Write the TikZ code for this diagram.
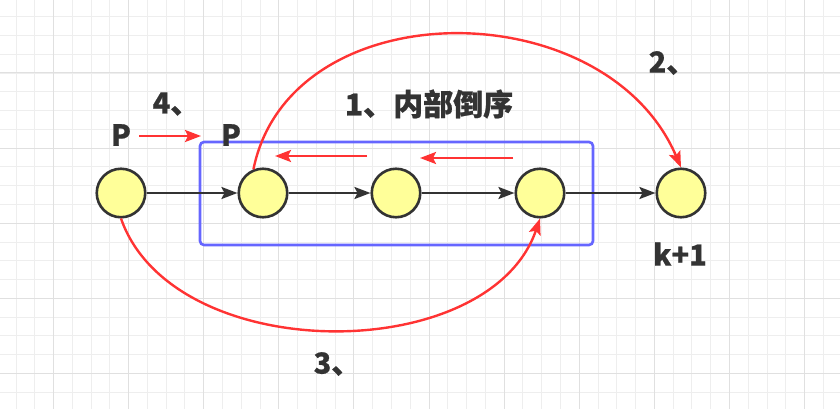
\documentclass[tikz,border=0pt]{standalone}
\usepackage{fontspec}
\newfontfamily\cjk{Noto Sans CJK SC}[BoldFeatures={FakeBold=0.6}]
\usetikzlibrary{arrows.meta}
\definecolor{gridminor}{HTML}{EEEEEE}
\definecolor{gridmajor}{HTML}{E0E0E0}
\definecolor{nodefill}{HTML}{FFFF99}
\definecolor{nodeline}{HTML}{333333}
\definecolor{redline}{HTML}{FF3333}
\definecolor{blueline}{HTML}{6666FF}
\definecolor{textc}{HTML}{333333}
\begin{document}
\begin{tikzpicture}[x=1pt,y=-1pt,
  listnode/.style={circle,draw=nodeline,fill=nodefill,line width=2.6pt,minimum size=48.5pt,inner sep=0pt},
  blackarrow/.style={draw=nodeline,line width=2.2pt,-{Stealth[length=16pt,width=12pt,inset=3pt]}},
  redarrow/.style={draw=redline,line width=2.4pt,-{Stealth[length=16pt,width=12pt,inset=3pt]}},
  lbl/.style={text=textc,font=\cjk\bfseries\fontsize{29}{34}\selectfont,inner sep=0pt},
  title/.style={text=textc,font=\cjk\bfseries\fontsize{30}{36}\selectfont,inner sep=0pt},
  gminor/.style={draw=gridminor,line width=1pt},
  gmajor/.style={draw=gridmajor,line width=1pt}]
\useasboundingbox (0,0) rectangle (840,409);
\fill[white] (0,0) rectangle (840,409);
% grid
\foreach \i in {0,...,44} {\draw[gminor] ({16+\i*18.775},0) -- ({16+\i*18.775},409);}
\foreach \i in {0,...,21} {\draw[gminor] (0,{16.7+\i*18.775}) -- (840,{16.7+\i*18.775});}
\foreach \i in {0,...,10} {\draw[gmajor] ({53.5+\i*75.1},0) -- ({53.5+\i*75.1},409);}
\foreach \i in {0,...,4} {\draw[gmajor] (0,{73+\i*75.1}) -- (840,{73+\i*75.1});}
% blue box
\draw[blueline,line width=2.6pt,rounded corners=4pt] (200,142) rectangle (593,245);
% nodes
\node[listnode] (n1) at (121,193) {};
\node[listnode] (n2) at (263,193) {};
\node[listnode] (n3) at (396,193) {};
\node[listnode] (n4) at (540,193) {};
\node[listnode] (n5) at (681,193) {};
% black connectors
\draw[blackarrow] (n1) -- (n2);
\draw[blackarrow] (n2) -- (n3);
\draw[blackarrow] (n3) -- (n4);
\draw[blackarrow] (n4) -- (n5);
% red reverse arrows
\coordinate (r1s) at (367,156);
\coordinate (r1e) at (275,156);
\coordinate (r2s) at (513,158);
\coordinate (r2e) at (420,158);
\draw[redarrow] (r1s) -- (r1e);
\draw[redarrow] (r2s) -- (r2e);
% P -> P arrow
\coordinate (ps) at (139,136);
\coordinate (pe) at (201,136);
\draw[redarrow] (ps) -- (pe);
% curve 2
\draw[redarrow] (n2.112) .. controls (290,-10) and (605,-10) .. (n5.north);
% curve 3
\draw[redarrow] (n1.south) .. controls (173,367) and (489,367) .. (n4.south);
% labels
\node[lbl] (l4) at (176,104) {4、};
\node[lbl] (pl) at (121,135) {P};
\node[lbl] (pr) at (231,135) {P};
\node[title] (t1) at (429,104) {1、内部倒序};
\node[lbl] (l2) at (672,63) {2、};
\node[lbl] (lk) at (680,254) {k+1};
\node[lbl] (l3) at (337,364) {3、};
\end{tikzpicture}
\end{document}
